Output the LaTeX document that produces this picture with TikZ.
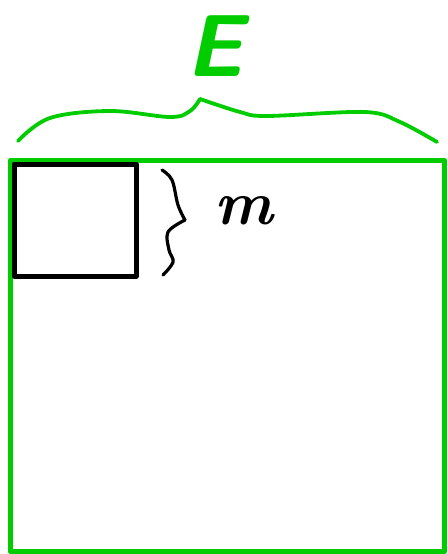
\documentclass[tikz,border=0pt]{standalone}
\definecolor{hgreen}{RGB}{0,204,0}
\tikzset{
  greenline/.style={draw=hgreen, line width=5.5pt, line cap=round, line join=round},
  blackbox/.style={draw=black, line width=5pt, line join=round},
  bracegreen/.style={draw=hgreen, line width=3.8pt, line cap=round, line join=round},
  braceblack/.style={draw=black, line width=3.2pt, line cap=round, line join=round},
}
\begin{document}
\begin{tikzpicture}[x=1pt,y=-1pt]
\useasboundingbox (0,0) rectangle (447,554);
% big green square
\draw[greenline] (10.5,160.5) rectangle (444.5,551.5);
% small black square
\draw[blackbox] (14,164) rectangle (136,276);
% big brace
\draw[bracegreen] plot[smooth, tension=0.6] coordinates {(18,141) (50,118) (110,111) (170,117) (190,111) (200,99)};
\draw[bracegreen] plot[smooth, tension=0.55] coordinates {(200,99) (240,112) (267,116) (365,112) (400,122) (437,142)};
% small brace
\draw[braceblack] plot[smooth, tension=0.6] coordinates {(162,170) (172,180) (178,205) (185,220)};
\draw[braceblack] plot[smooth, tension=0.6] coordinates {(185,220) (168,232) (169,250) (173,262) (163,275)};
% labels
\node[text=hgreen, font=\fontsize{88}{88}\selectfont\sffamily\bfseries\slshape] (E) at (215,46) {E};
\node[text=black, font=\fontsize{62}{62}\selectfont\bfseries\itshape] (m) at (244,211) {m};
\end{tikzpicture}
\end{document}
